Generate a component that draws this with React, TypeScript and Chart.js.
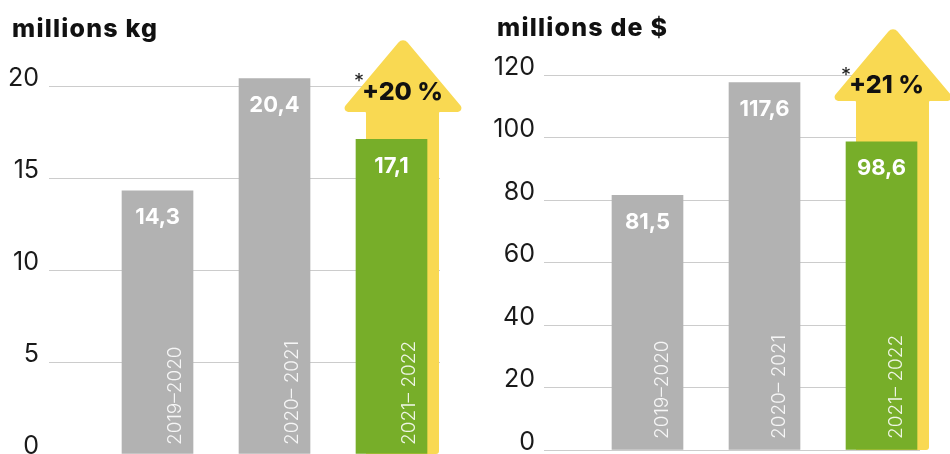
import React, { useEffect, useRef } from 'react';
import { Chart, registerables } from 'chart.js';

Chart.register(...registerables);

// ---- data ----
const categories = ['2019–2020', '2020– 2021', '2021– 2022'];
const volumeValues = [14.3, 20.4, 17.1];
const valueValues = [81.5, 117.6, 98.6];
const volumeTitle = 'millions kg';
const valueTitle = 'millions de $';
const volumeChange = '+20 %';
const valueChange = '+21 %';
const volumeAxis = { max: 20, step: 5 };
const valueAxis = { max: 120, step: 20 };

// ---- styles ----
const FONT = 'Inter, "Noto Sans", sans-serif';
const GRAY = '#b2b2b2';
const GREEN = '#77ae29';
const YELLOW = '#f9d952';
const GRID = '#cccccc';

const fmt = (v: number) => v.toFixed(1).replace('.', ',');

function roundedPoly(ctx: CanvasRenderingContext2D, pts: number[][], radii: number[]) {
  const n = pts.length;
  const last = pts[n - 1];
  const first = pts[0];
  ctx.beginPath();
  ctx.moveTo((last[0] + first[0]) / 2, (last[1] + first[1]) / 2);
  for (let i = 0; i < n; i++) {
    const p = pts[i];
    const q = pts[(i + 1) % n];
    ctx.arcTo(p[0], p[1], q[0], q[1], radii[i]);
  }
  ctx.closePath();
}

const overlayPlugin = {
  id: 'overlay',
  beforeDatasetsDraw(chart: any) {
    const ctx = chart.ctx as CanvasRenderingContext2D;
    const meta = chart.getDatasetMeta(0);
    const bar = meta.data[meta.data.length - 1];
    const { top, bottom } = chart.chartArea;
    const cx = bar.x;
    const tipX = cx + 11.5;
    const tipY = top - 49;
    const baseY = top + 26;
    const pts = [
      [tipX, tipY],
      [tipX + 63, baseY],
      [cx + 47.5, baseY],
      [cx + 47.5, bottom],
      [cx - 25.5, bottom],
      [cx - 25.5, baseY],
      [tipX - 63, baseY],
    ];
    ctx.save();
    ctx.fillStyle = YELLOW;
    roundedPoly(ctx, pts, [6, 4, 1, 3, 0, 1, 4]);
    ctx.fill();
    ctx.restore();
  },
  afterDatasetsDraw(chart: any, _args: any, o: any) {
    const ctx = chart.ctx as CanvasRenderingContext2D;
    const meta = chart.getDatasetMeta(0);
    const { top, bottom } = chart.chartArea;
    const values: number[] = chart.data.datasets[0].data.map((d: any) => d.y);
    ctx.save();
    // value labels
    ctx.fillStyle = '#ffffff';
    ctx.font = `700 22px ${FONT}`;
    ctx.textAlign = 'center';
    ctx.textBaseline = 'middle';
    meta.data.forEach((el: any, i: number) => {
      ctx.fillText(fmt(values[i]), el.x, el.y + 27);
    });
    // category labels (rotated)
    ctx.fillStyle = 'rgba(255,255,255,0.88)';
    ctx.font = `300 19px ${FONT}`;
    ctx.textAlign = 'left';
    ctx.textBaseline = 'middle';
    meta.data.forEach((el: any, i: number) => {
      ctx.save();
      ctx.translate(el.x + o.catDx, bottom - o.catDy);
      ctx.rotate(-Math.PI / 2);
      ctx.fillText(categories[i], 0, 0);
      ctx.restore();
    });
    // change label + asterisk
    const bar = meta.data[meta.data.length - 1];
    const cx = bar.x;
    ctx.fillStyle = '#111111';
    ctx.font = `800 25px ${FONT}`;
    ctx.textAlign = 'center';
    ctx.textBaseline = 'middle';
    ctx.fillText(o.change, cx + 11.5 + o.changeDx, top + o.changeDy);
    ctx.font = `400 20px ${FONT}`;
    ctx.textBaseline = 'alphabetic';
    ctx.fillStyle = '#222222';
    ctx.fillText('*', cx + o.starDx, top + o.starDy + 11);
    // title
    ctx.fillStyle = '#111111';
    ctx.font = `800 25px ${FONT}`;
    ctx.textAlign = 'left';
    (ctx as any).letterSpacing = '1.2px';
    ctx.fillText(o.title, o.titleX, o.titleY);
    ctx.restore();
  },
};

function makeConfig(p: any): any {
  return {
    type: 'bar',
    data: {
      datasets: [
        {
          data: p.values.map((v: number, i: number) => ({ x: i + 1, y: v })),
          backgroundColor: p.values.map((_: number, i: number) => (i === p.values.length - 1 ? GREEN : GRAY)),
          borderWidth: 0,
          barThickness: 71,
          clip: false,
        },
      ],
    },
    options: {
      animation: false,
      responsive: false,
      devicePixelRatio: 1,
      layout: { padding: p.padding },
      plugins: {
        legend: { display: false },
        tooltip: { enabled: false },
        overlay: p.overlay,
      },
      scales: {
        x: { type: 'linear', display: false, offset: false, min: p.xMin, max: p.xMax },
        y: {
          min: 0,
          max: p.axis.max,
          border: { display: false },
          grid: { color: GRID, drawTicks: false, lineWidth: 1 },
          ticks: {
            stepSize: p.axis.step,
            font: { family: FONT, size: 25, weight: '400' },
            color: '#1a1a1a',
            padding: p.tickPad,
            labelOffset: -8,
          },
          afterFit: (s: any) => {
            s.width = p.axisWidth;
          },
        },
      },
    },
    plugins: [overlayPlugin],
  };
}

export default function App() {
  const leftRef = useRef<HTMLCanvasElement>(null);
  const rightRef = useRef<HTMLCanvasElement>(null);

  useEffect(() => {
    const c1 = new Chart(
      leftRef.current!,
      makeConfig({
        values: volumeValues,
        axis: volumeAxis,
        padding: { top: 86, bottom: 36, left: 0, right: 40 },
        axisWidth: 49,
        tickPad: 10,
        xMin: 0.0726,
        xMax: 3.4145,
        overlay: {
          title: volumeTitle,
          titleX: 12,
          titleY: 37,
          change: volumeChange,
          changeDx: -0.5,
          changeDy: 6.5,
          starDx: -32.5,
          starDy: -9,
          catDx: 17.5,
          catDy: 9,
        },
      })
    );
    const c2 = new Chart(
      rightRef.current!,
      makeConfig({
        values: valueValues,
        axis: valueAxis,
        padding: { top: 75, bottom: 40, left: 0, right: 30 },
        axisWidth: 64,
        tickPad: 9,
        xMin: 0.1154,
        xMax: 3.329,
        overlay: {
          title: valueTitle,
          titleX: 17,
          titleY: 36,
          change: valueChange,
          changeDx: -6.5,
          changeDy: 10.5,
          starDx: -35.5,
          starDy: -4,
          catDx: 14.5,
          catDy: 11,
        },
      })
    );
    return () => {
      c1.destroy();
      c2.destroy();
    };
  }, []);

  return (
    <div
      style={{
        position: 'absolute',
        left: 0,
        top: 0,
        width: 950,
        height: 454,
        overflow: 'hidden',
        background: '#ffffff',
      }}
    >
      <canvas ref={leftRef} width={480} height={490} style={{ position: 'absolute', left: 0, top: 0 }} />
      <canvas ref={rightRef} width={470} height={490} style={{ position: 'absolute', left: 480, top: 0 }} />
    </div>
  );
}
